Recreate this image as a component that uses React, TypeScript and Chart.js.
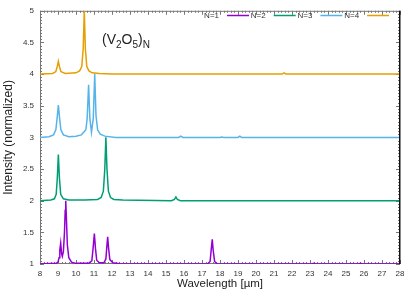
import React, { useEffect, useRef } from "react";
import { Chart, registerables } from "chart.js";
Chart.register(...registerables);

const seriesLabels = ["N=1", "N=2", "N=3", "N=4"];
const seriesColors = ["#9400d3", "#009e73", "#56b4e9", "#e69f00"];

const n1X = [8, 8.9, 9.0, 9.06, 9.1, 9.15, 9.2, 9.24, 9.3, 9.36, 9.4, 9.43, 9.47, 9.52, 9.6, 9.75, 10.0, 10.7, 10.88, 10.95, 11.02, 11.08, 11.15, 11.3, 11.55, 11.66, 11.72, 11.76, 11.81, 11.88, 12.05, 12.5, 17.3, 17.45, 17.52, 17.57, 17.62, 17.7, 17.85, 23.1, 23.2, 23.3, 25.7, 25.8, 25.9, 28];
const n1Y = [1, 1.01, 1.03, 1.1, 1.22, 1.33, 1.16, 1.12, 1.2, 1.5, 1.85, 2.0, 1.7, 1.3, 1.1, 1.03, 1.01, 1.01, 1.05, 1.25, 1.48, 1.25, 1.06, 1.02, 1.02, 1.08, 1.3, 1.43, 1.25, 1.07, 1.02, 1.0, 1.0, 1.04, 1.25, 1.39, 1.22, 1.04, 1.0, 1.0, 1.01, 1.0, 1.0, 1.01, 1.0, 1];

const n2X = [8, 8.6, 8.8, 8.9, 8.96, 9.02, 9.08, 9.15, 9.3, 9.6, 10.5, 11.2, 11.4, 11.52, 11.6, 11.66, 11.72, 11.8, 11.92, 12.1, 12.6, 15.3, 15.47, 15.55, 15.63, 15.8, 28];
const n2Y = [2, 2.01, 2.03, 2.1, 2.35, 2.73, 2.35, 2.1, 2.03, 2.01, 2.01, 2.02, 2.05, 2.15, 2.5, 3.0, 2.5, 2.15, 2.05, 2.02, 2.01, 2.0, 2.02, 2.06, 2.02, 2.0, 2];

const n3X = [8, 8.5, 8.75, 8.88, 8.95, 9.02, 9.09, 9.16, 9.3, 9.6, 10.0, 10.3, 10.55, 10.62, 10.7, 10.77, 10.86, 10.96, 11.04, 11.11, 11.2, 11.35, 11.6, 12.2, 15.7, 15.82, 15.94, 18.0, 18.1, 18.2, 19.0, 19.1, 19.2, 28];
const n3Y = [3, 3.01, 3.04, 3.12, 3.3, 3.51, 3.3, 3.12, 3.04, 3.01, 3.02, 3.04, 3.12, 3.3, 3.83, 3.3, 3.08, 3.3, 4.0, 3.35, 3.12, 3.05, 3.02, 3.0, 3.0, 3.02, 3.0, 3.0, 3.005, 3.0, 3.0, 3.02, 3.0, 3];

const n4X = [8, 8.7, 8.88, 8.96, 9.02, 9.08, 9.16, 9.4, 10.0, 10.2, 10.32, 10.4, 10.46, 10.52, 10.6, 10.72, 10.9, 11.3, 12.0, 21.45, 21.56, 21.67, 28];
const n4Y = [4, 4.01, 4.04, 4.12, 4.2, 4.12, 4.04, 4.01, 4.02, 4.05, 4.12, 4.4, 5.0, 4.4, 4.12, 4.05, 4.02, 4.01, 4.0, 4.0, 4.02, 4.0, 4];

const xTicks = [8, 9, 10, 11, 12, 13, 14, 15, 16, 17, 18, 19, 20, 21, 22, 23, 24, 25, 26, 27, 28];
const yTicks = [1, 1.5, 2, 2.5, 3, 3.5, 4, 4.5, 5];

const FONT = "'Liberation Sans', Arial, Helvetica, sans-serif";

const seriesX = [n1X, n2X, n3X, n4X];
const seriesY = [n1Y, n2Y, n3Y, n4Y];

const framePlugin = {
  id: "gnuFrame",
  beforeDatasetsDraw(chart: any) {
    const { ctx, chartArea, scales } = chart;
    const { left, right, top, bottom } = chartArea;
    const x = scales.x;
    const y = scales.y;
    ctx.save();
    ctx.strokeStyle = "#777";
    ctx.lineWidth = 1;
    ctx.beginPath();
    ctx.moveTo(left + 0.5, top + 0.5);
    ctx.lineTo(right, top + 0.5);
    ctx.moveTo(left + 0.5, top);
    ctx.lineTo(left + 0.5, bottom);
    ctx.moveTo(left, bottom - 0.5);
    ctx.lineTo(right, bottom - 0.5);
    ctx.stroke();
    ctx.beginPath();
    for (let i = 0; i <= 100; i++) {
      const v = 8 + i * 0.2;
      const px = Math.round(x.getPixelForValue(v)) + 0.5;
      const len = i % 5 === 0 ? 4 : 2;
      ctx.moveTo(px, bottom);
      ctx.lineTo(px, bottom - len);
      ctx.moveTo(px, top);
      ctx.lineTo(px, top + len);
    }
    for (let i = 0; i <= 80; i++) {
      const v = 1 + i * 0.05;
      const py = Math.round(y.getPixelForValue(v)) + 0.5;
      const len = i % 10 === 0 ? 4 : 2;
      ctx.moveTo(left, py);
      ctx.lineTo(left + len, py);
      ctx.moveTo(right, py);
      ctx.lineTo(right - len, py);
    }
    ctx.stroke();
    ctx.restore();
  },
  afterDatasetsDraw(chart: any) {
    const { ctx, chartArea } = chart;
    const { right, top, bottom } = chartArea;
    ctx.save();
    ctx.strokeStyle = "#111";
    ctx.lineWidth = 1.5;
    ctx.beginPath();
    ctx.moveTo(right - 0.25, top);
    ctx.lineTo(right - 0.25, bottom);
    ctx.stroke();

    ctx.font = `8px ${FONT}`;
    ctx.textAlign = "right";
    ctx.textBaseline = "middle";
    const ly = 15.5;
    seriesLabels.forEach((lab, i) => {
      const ls = 227 + i * 46.7;
      ctx.fillStyle = "#333";
      ctx.fillText(lab, ls - 8, ly);
      ctx.strokeStyle = seriesColors[i];
      ctx.lineWidth = 1.5;
      ctx.beginPath();
      ctx.moveTo(ls, ly);
      ctx.lineTo(ls + 22, ly);
      ctx.stroke();
    });

    ctx.fillStyle = "#222";
    ctx.textAlign = "left";
    ctx.textBaseline = "alphabetic";
    let cx = 102;
    const base = 44;
    const parts: [string, boolean][] = [["(V", false], ["2", true], ["O", false], ["5", true], [")", false], ["N", true]];
    parts.forEach(([t, sub]) => {
      ctx.font = sub ? `10px ${FONT}` : `14px ${FONT}`;
      ctx.fillText(t, cx, sub ? base + 4 : base);
      cx += ctx.measureText(t).width;
    });
    ctx.restore();
  },
};

export default function App() {
  const ref = useRef<HTMLCanvasElement | null>(null);
  useEffect(() => {
    if (!ref.current) return;
    const datasets = seriesLabels.map((label, i) => ({
      label,
      data: seriesX[i].map((xv, j) => ({ x: xv, y: seriesY[i][j] })),
      borderColor: seriesColors[i],
      backgroundColor: seriesColors[i],
      borderWidth: 1.5,
      pointRadius: 0,
      tension: 0,
      fill: false,
    }));
    const chart = new Chart(ref.current, {
      type: "line",
      data: { datasets },
      plugins: [framePlugin],
      options: {
        animation: false,
        responsive: false,
        devicePixelRatio: 1,
        layout: { padding: { top: 8, right: 15, left: 0, bottom: 0 } },
        plugins: { legend: { display: false }, tooltip: { enabled: false } },
        scales: {
          x: {
            type: "linear",
            min: 8,
            max: 28,
            afterBuildTicks: (s: any) => {
              s.ticks = xTicks.map((v) => ({ value: v }));
            },
            afterFit: (s: any) => {
              s.height = 27;
            },
            ticks: { font: { size: 8, family: FONT }, color: "#333", padding: 5, maxRotation: 0, autoSkip: false },
            grid: { display: false, drawTicks: false },
            border: { display: false },
            title: { display: true, text: "Wavelength [µm]", font: { size: 11.5, family: FONT }, color: "#222", padding: { top: 0, bottom: 0.5 } },
          },
          y: {
            type: "linear",
            min: 1,
            max: 5,
            afterBuildTicks: (s: any) => {
              s.ticks = yTicks.map((v) => ({ value: v }));
            },
            afterFit: (s: any) => {
              s.width = 40;
            },
            ticks: { font: { size: 8, family: FONT }, color: "#333", padding: 6, autoSkip: false, callback: (v: any) => String(v) },
            grid: { display: false, drawTicks: false },
            border: { display: false },
            title: { display: true, text: "Intensity (normalized)", font: { size: 12, family: FONT }, color: "#222", padding: { top: 1, bottom: 0 } },
          },
        },
      },
    });
    return () => chart.destroy();
  }, []);
  return (
    <div style={{ position: "fixed", left: 0, top: 0, width: 415, height: 291, background: "#fff" }}>
      <canvas ref={ref} width={415} height={291} style={{ width: 415, height: 291 }} />
    </div>
  );
}
